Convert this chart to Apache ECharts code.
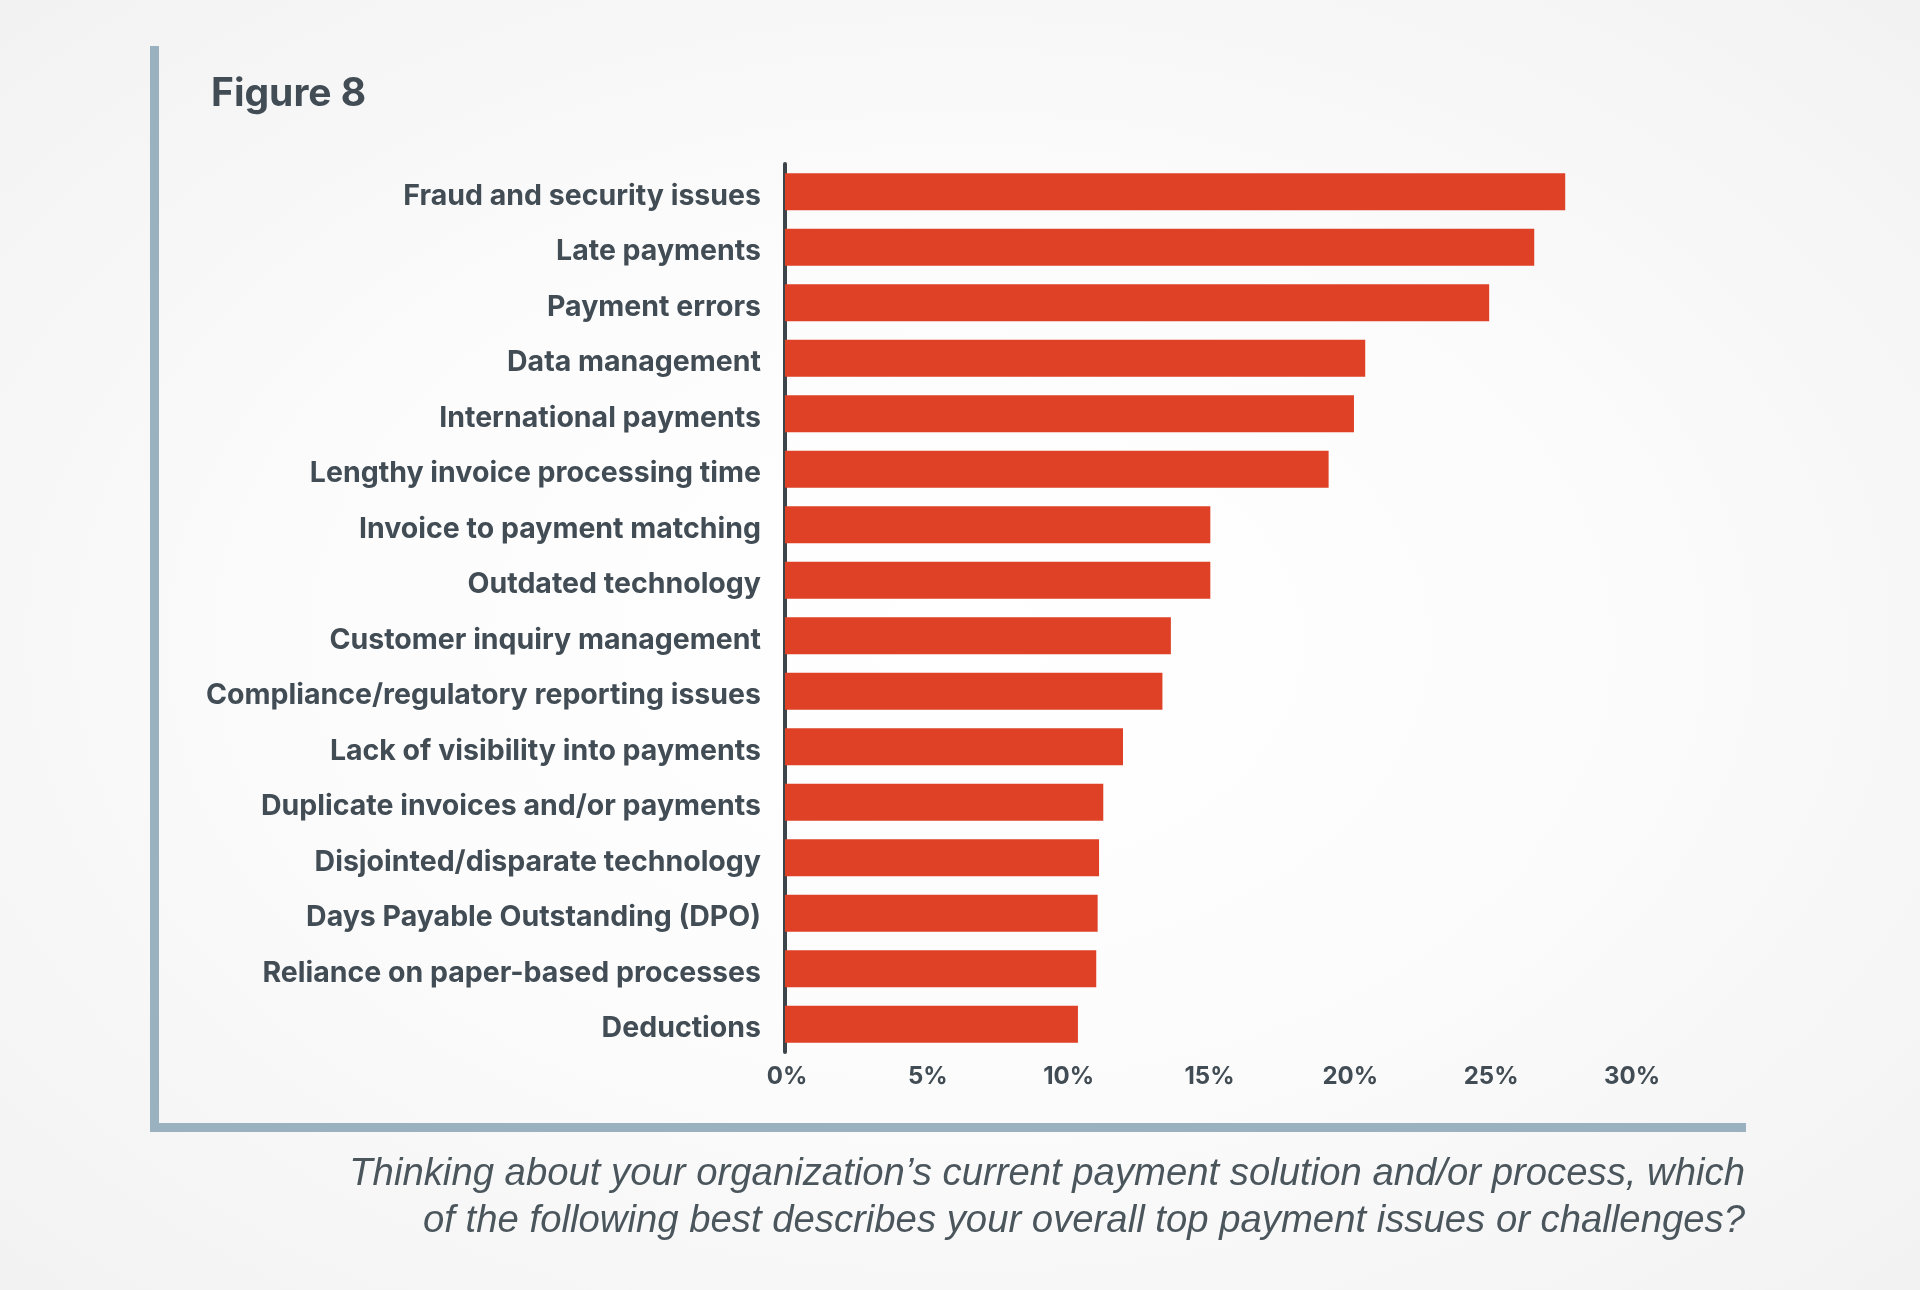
<!DOCTYPE html>
<html>
<head>
<meta charset="utf-8">
<script src="https://cdn.jsdelivr.net/npm/echarts@6/dist/echarts.min.js"></script>
<style>
html,body{margin:0;padding:0;width:1920px;height:1290px;overflow:hidden;
background: radial-gradient(ellipse at 50% 50%, #ffffff 0%, #fcfcfc 45%, #f2f2f2 100%);}
#chart{width:1920px;height:1290px;}
</style>
</head>
<body>
<div id="chart"></div>
<script>
const categories = [
  "Fraud and security issues",
  "Late payments",
  "Payment errors",
  "Data management",
  "International payments",
  "Lengthy invoice processing time",
  "Invoice to payment matching",
  "Outdated technology",
  "Customer inquiry management",
  "Compliance/regulatory reporting issues",
  "Lack of visibility into payments",
  "Duplicate invoices and/or payments",
  "Disjointed/disparate technology",
  "Days Payable Outstanding (DPO)",
  "Reliance on paper-based processes",
  "Deductions"
];
const values = [27.7, 26.6, 25.0, 20.6, 20.2, 19.3, 15.1, 15.1, 13.7, 13.4, 12.0, 11.3, 11.15, 11.1, 11.05, 10.4];
const tickValues = [0, 5, 10, 15, 20, 25, 30];
const titleText = "Figure 8";
const captionLines = [
  "Thinking about your organization\u2019s current payment solution and/or process, which",
  "of the following best describes your overall top payment issues or challenges?"
];

const textColor = '#414c54';
const chart = echarts.init(document.getElementById('chart'), null, {renderer: 'canvas'});
chart.setOption({
  backgroundColor: 'transparent',
  animation: false,
  grid: {left: 785, top: 164, width: 845, height: 888, containLabel: false},
  xAxis: {
    type: 'value',
    min: tickValues[0],
    max: tickValues[tickValues.length - 1],
    interval: tickValues[1] - tickValues[0],
    axisLine: {show: false},
    axisTick: {show: false},
    splitLine: {show: false},
    axisLabel: {
      formatter: '{value}%',
      margin: 13,
      color: textColor,
      fontFamily: 'Inter',
      fontWeight: 'bold',
      fontSize: 24,
      padding: [0, 0, 0, 4]
    }
  },
  yAxis: {
    type: 'category',
    data: categories,
    inverse: true,
    axisLine: {show: true, lineStyle: {color: '#3c454c', width: 4}},
    axisTick: {show: false},
    splitLine: {show: false},
    axisLabel: {
      margin: 24,
      formatter: function (v) { return '{a|' + v + '}'; },
      rich: {
        a: {
          color: textColor,
          fontFamily: 'Inter',
          fontWeight: 'bold',
          fontSize: 28.5,
          padding: [9, 0, 0, 0]
        }
      }
    }
  },
  series: [{
    type: 'bar',
    data: values,
    barWidth: 37,
    itemStyle: {color: '#df4126'},
    silent: true
  }],
  graphic: [
    {type: 'rect', shape: {x: 150, y: 46, width: 9, height: 1086}, style: {fill: '#9ab2c0'}, silent: true},
    {type: 'rect', shape: {x: 150, y: 1123, width: 1596, height: 9}, style: {fill: '#9ab2c0'}, silent: true},
    {type: 'text', x: 211, y: 94, style: {text: titleText, fill: textColor, font: 'bold 39px Inter', textAlign: 'left', textVerticalAlign: 'middle'}, silent: true},
    {type: 'text', x: 1745, y: 1174, style: {text: captionLines[0], fill: '#4a555c', font: 'italic 38.3px "Liberation Sans"', textAlign: 'right', textVerticalAlign: 'middle'}, silent: true},
    {type: 'text', x: 1745, y: 1221, style: {text: captionLines[1], fill: '#4a555c', font: 'italic 38.3px "Liberation Sans"', textAlign: 'right', textVerticalAlign: 'middle'}, silent: true}
  ]
});
</script>
</body>
</html>
